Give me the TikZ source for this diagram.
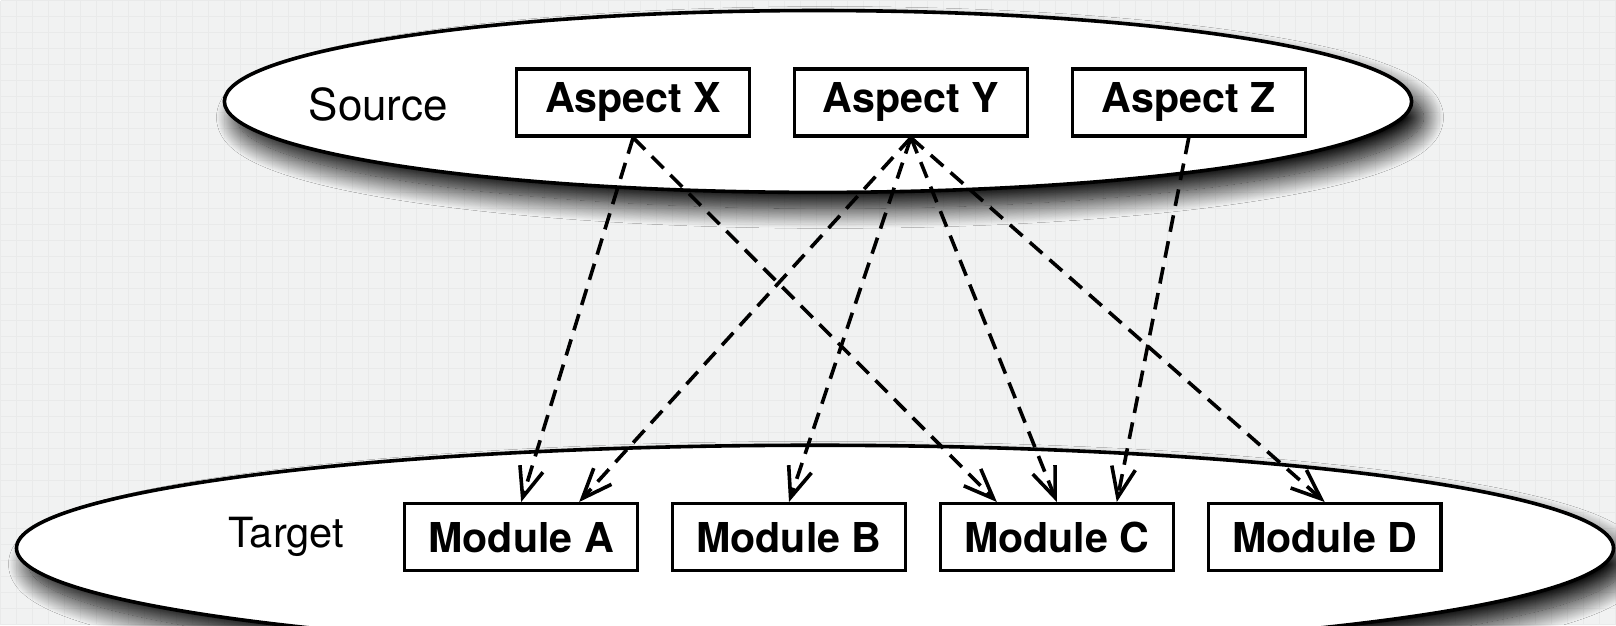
\documentclass[tikz,border=0pt]{standalone}
\usepackage{fontspec}
\setmainfont{TeX Gyre Heros}
\usetikzlibrary{arrows.meta,positioning,shapes.geometric,shadows.blur}

\definecolor{paper}{RGB}{241,242,242}
\definecolor{paperline}{RGB}{233,234,234}

\begin{document}
\begin{tikzpicture}[x=0.25pt,y=-0.25pt,node distance=69.5pt,
  dep/.style={-{Straight Barb[length=7.5pt,width=6pt]},line width=0.9pt,
    dash pattern=on 4.2pt off 2.4pt},
  layer node/.style={ellipse,draw,fill=white,line width=0.9pt,inner sep=0pt,
    blur shadow={shadow xshift=3pt,shadow yshift=-4pt,
      shadow blur radius=5pt,shadow blur steps=24,shadow opacity=100}},
  aspect node/.style={rectangle,draw,fill=white,line width=0.85pt,inner sep=0pt,
    minimum width=58.25pt,minimum height=16.75pt,
    font=\fontsize{10.3}{12}\selectfont\bfseries},
  tag node/.style={font=\fontsize{10.4}{12}\selectfont}]

  % paper
  \fill[paper] (0,0) rectangle (1616,625);
  \draw[paperline,line width=0.25pt,step=4pt] (0,0) grid (1616,625);
  \useasboundingbox (0,0) rectangle (1616,625);

  \node[layer node,minimum width=297pt,minimum height=45.5pt] (source) at (818,101) {};
  \node[layer node,minimum width=399.5pt,minimum height=51.5pt] (target) at (815,548) {};

  \node[tag node,font=\fontsize{11}{13}\selectfont] (srclabel) at (378,104) {Source};
  \node[tag node] (tgtlabel) at (286,537) {Target};

  \node[aspect node] (x) at (633,102) {Aspect X};
  \node[aspect node] (y) [right of=x] {Aspect Y};
  \node[aspect node] (z) [right of=y] {Aspect Z};

  \node[aspect node] (a) at (521,537) {Module A};
  \node[aspect node,node distance=67pt] (b) [right of=a] {Module B};
  \node[aspect node,node distance=67pt] (c) [right of=b] {Module C};
  \node[aspect node,node distance=67pt] (d) [right of=c] {Module D};

  \path[dep]
    (x.south) edge (a.north)
    (x.south) edge ([xshift=-15pt]c.north)
    (y.south) edge ([xshift=14.5pt]a.north)
    (y.south) edge (b.north)
    (y.south) edge (c.north)
    (y.south) edge (d.north)
    (z.south) edge ([xshift=15pt]c.north);

\end{tikzpicture}
\end{document}
